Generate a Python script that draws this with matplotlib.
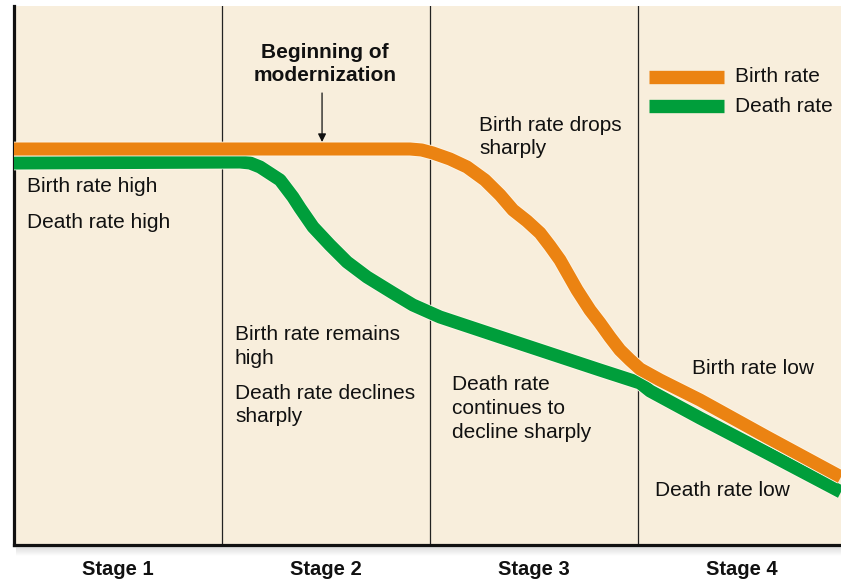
import matplotlib
matplotlib.use("Agg")
import matplotlib.pyplot as plt
import matplotlib.patheffects as pe
import numpy as np

plt.rcParams['font.family'] = ['Liberation Sans', 'DejaVu Sans']

# ---- data (x in stage units, y in rate units) ----
stages = ["Stage 1", "Stage 2", "Stage 3", "Stage 4"]
stage_centers = [0.5, 1.5, 2.5, 3.5]
stage_bounds = [1, 2, 3]

birth_x = [0, 1.904, 1.96, 2.014, 2.096, 2.178, 2.264, 2.337, 2.399, 2.466, 2.529, 2.577,
           2.625, 2.707, 2.769, 2.817, 2.865, 2.913, 2.962, 3.010, 3.106, 3.298, 3.620, 3.976]
birth_y = [39.6, 39.6, 39.5, 39.2, 38.6, 37.8, 36.5, 35.0, 33.5, 32.4, 31.2, 29.9,
           28.5, 25.5, 23.5, 22.2, 20.8, 19.5, 18.5, 17.6, 16.5, 14.5, 10.8, 6.8]

death_x = [0, 1.087, 1.135, 1.183, 1.279, 1.341, 1.375, 1.438, 1.519, 1.601, 1.697, 1.822,
           1.918, 2.048, 2.337, 2.817, 3.010, 3.058, 3.298, 3.620, 3.976]
death_y = [38.2, 38.3, 38.2, 37.8, 36.5, 34.8, 33.7, 31.8, 30.0, 28.3, 26.8, 25.2,
           24.0, 22.8, 20.8, 17.5, 16.2, 15.4, 12.7, 9.2, 5.3]

BEIGE = '#F8EEDC'
ORANGE = '#EB8312'
GREEN = '#009E3B'

W, H = 841, 581
fig = plt.figure(figsize=(W / 100, H / 100), dpi=100)
fig.patch.set_facecolor('white')

# shadow under the bottom axis line
sh = fig.add_axes([16 / W, (H - 556) / H, (W - 16) / W, 10 / H])
grad = np.linspace(0, 1, 50).reshape(-1, 1)
sh.imshow(grad, aspect='auto', cmap=matplotlib.colors.LinearSegmentedColormap.from_list(
    'sh', ['#D9D9D9', '#FFFFFF']), extent=[0, 1, 0, 1])
sh.axis('off')

ax = fig.add_axes([14 / W, (H - 545) / H, (W - 14) / W, 539 / H])
ax.set_facecolor(BEIGE)
ax.set_xlim(0, 3.976)
ax.set_ylim(0, 53.9)

for s in ['top', 'right']:
    ax.spines[s].set_visible(False)
for s in ['left', 'bottom']:
    ax.spines[s].set_linewidth(2.3)
    ax.spines[s].set_color('#111111')

for b in stage_bounds:
    ax.axvline(b, color='#222222', lw=0.9, zorder=1)

lw = 9.4
stroke = [pe.Stroke(linewidth=lw + 1.2, foreground='#FFF6E8'), pe.Normal()]
ax.plot(death_x, death_y, color=GREEN, lw=lw, solid_joinstyle='round',
        solid_capstyle='butt', zorder=3, path_effects=stroke)
ax.plot(birth_x, birth_y, color=ORANGE, lw=lw, solid_joinstyle='round',
        solid_capstyle='butt', zorder=4, path_effects=stroke)

# legend (manual)
ax.plot([3.053, 3.413], [46.85, 46.85], color=ORANGE, lw=9.6, solid_capstyle='butt', zorder=5)
ax.plot([3.053, 3.413], [43.9, 43.9], color=GREEN, lw=9.6, solid_capstyle='butt', zorder=5)
fs = 15
ax.text(3.466, 46.85, "Birth rate", fontsize=fs, va='center', ha='left', color='#111111')
ax.text(3.466, 43.9, "Death rate", fontsize=fs, va='center', ha='left', color='#111111')

# annotations
ls = 1.3
ax.text(0.0625, 35.8, "Birth rate high", fontsize=fs, va='center', ha='left', color='#111111')
ax.text(0.0625, 32.3, "Death rate high", fontsize=fs, va='center', ha='left', color='#111111')
ax.text(1.495, 48.1, "Beginning of\nmodernization", fontsize=fs, fontweight='bold',
        va='center', ha='center', linespacing=1.22, color='#111111')
ax.annotate("", xy=(1.481, 40.3), xytext=(1.481, 45.2),
            arrowprops=dict(arrowstyle='-|>', color='#111111', lw=0.9,
                            mutation_scale=12, shrinkA=0, shrinkB=0), zorder=6)
ax.text(2.236, 40.8, "Birth rate drops\nsharply", fontsize=fs, va='center', ha='left',
        linespacing=ls, color='#111111')
ax.text(1.0625, 19.85, "Birth rate remains\nhigh", fontsize=fs, va='center', ha='left',
        linespacing=ls, color='#111111')
ax.text(1.0625, 14.0, "Death rate declines\nsharply", fontsize=fs, va='center', ha='left',
        linespacing=ls, color='#111111')
ax.text(2.106, 13.65, "Death rate\ncontinues to\ndecline sharply", fontsize=fs, va='center',
        ha='left', linespacing=ls, color='#111111')
ax.text(3.26, 17.6, "Birth rate low", fontsize=fs, va='center', ha='left', color='#111111')
ax.text(3.082, 5.4, "Death rate low", fontsize=fs, va='center', ha='left', color='#111111')

ax.set_xticks(stage_centers)
ax.set_xticklabels(stages, fontsize=14.5, fontweight='bold', color='#111111')
ax.tick_params(axis='x', length=0, pad=11)
ax.set_yticks([])

fig.savefig("out.png", dpi=100)
